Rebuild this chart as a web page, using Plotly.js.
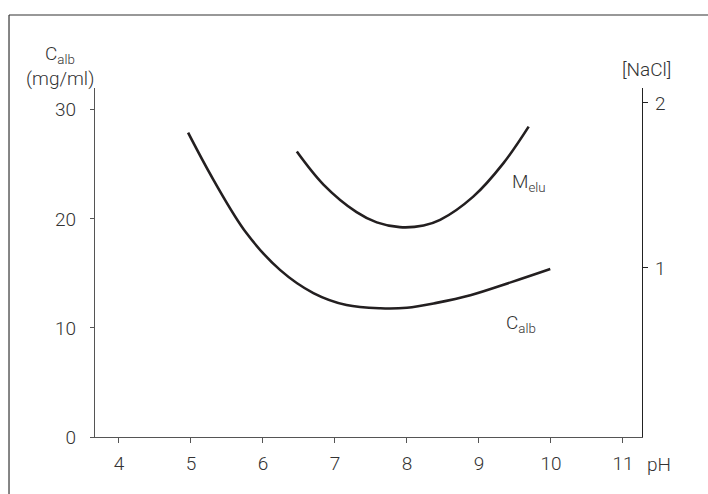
<!DOCTYPE html>
<html><head><meta charset="utf-8">
<script src="https://cdn.plot.ly/plotly-3.0.1.min.js"></script>
<style>html,body{margin:0;padding:0;background:#fff}#c{width:708px;height:494px}</style>
</head><body><div id="c"></div>
<script>
// C_alb curve (left axis, mg/ml)
const calbPH = [4.96, 5.31, 5.77, 6.24, 6.70, 7.16, 7.63, 8.00, 8.41, 8.88, 9.45, 9.99];
const calbVal = [27.9, 23.6, 18.7, 15.3, 13.2, 12.1, 11.8, 11.85, 12.3, 13.0, 14.2, 15.4];
// M_elu curve (right axis, [NaCl])
const meluPH = [6.47, 6.84, 7.30, 7.58, 7.90, 8.23, 8.46, 8.92, 9.34, 9.69];
const meluVal = [1.705, 1.505, 1.338, 1.276, 1.247, 1.257, 1.291, 1.432, 1.635, 1.856];
const xTicks = [4, 5, 6, 7, 8, 9, 10, 11];
const yTicks = [0, 10, 20, 30];
const y2Ticks = [1, 2];

const font = {family: 'Roboto, Lato, sans-serif', size: 19, color: '#333', weight: 300};
const lineCol = '#231f20';
const axCol = '#555';

const traces = [
  {x: calbPH, y: calbVal, mode: 'lines', line: {color: lineCol, width: 2.6, shape: 'spline', smoothing: 1}, yaxis: 'y', hoverinfo: 'skip'},
  {x: meluPH, y: meluVal, mode: 'lines', line: {color: lineCol, width: 2.6, shape: 'spline', smoothing: 1}, yaxis: 'y2', hoverinfo: 'skip'}
];

const layout = {
  width: 708, height: 494,
  margin: {l: 95, r: 66, t: 88, b: 57, pad: 0},
  paper_bgcolor: '#fff', plot_bgcolor: '#fff',
  showlegend: false,
  font: font,
  xaxis: {range: [3.667, 11.264], tickvals: xTicks, ticks: 'outside', ticklen: 5, tickcolor: axCol,
          showline: true, linecolor: axCol, linewidth: 1.2, showgrid: false, zeroline: false, fixedrange: true,
          ticklabelstandoff: 4, tickfont: font},
  yaxis: {range: [0, 32.0], tickvals: yTicks, ticks: 'outside', ticklen: 4, tickcolor: axCol,
          showline: true, linecolor: axCol, linewidth: 1.2, showgrid: false, zeroline: false, fixedrange: true,
          ticklabelstandoff: 10, tickfont: font},
  yaxis2: {range: [-0.024, 2.09], tickvals: y2Ticks, overlaying: 'y', side: 'right', ticks: 'outside', ticklen: 5,
          tickcolor: '#222', showline: true, linecolor: '#222', linewidth: 1.2, showgrid: false, zeroline: false,
          fixedrange: true, ticklabelstandoff: 3, tickfont: font},
  shapes: [
    {type: 'line', xref: 'paper', yref: 'paper', x0: -0.1572, x1: 1.13, y0: 1.2092, y1: 1.2092, line: {color: '#333', width: 1.2}},
    {type: 'line', xref: 'paper', yref: 'paper', x0: -0.1572, x1: -0.1572, y0: 1.2092, y1: -0.2, line: {color: '#333', width: 1.2}}
  ],
  annotations: [
    {text: 'C<sub>alb</sub>', xref: 'paper', yref: 'paper', x: (60-95)/547, y: (437-55)/349, showarrow: false, xanchor: 'center', yanchor: 'middle', font: font},
    {text: '(mg/ml)', xref: 'paper', yref: 'paper', x: (60-95)/547, y: (437-78)/349, showarrow: false, xanchor: 'center', yanchor: 'middle', font: font},
    {text: '[NaCl]', xref: 'paper', yref: 'paper', x: (646-95)/547, y: (437-69)/349, showarrow: false, xanchor: 'center', yanchor: 'middle', font: font},
    {text: 'pH', xref: 'paper', yref: 'paper', x: (659-95)/547, y: (437-464)/349, showarrow: false, xanchor: 'center', yanchor: 'middle', font: font},
    {text: 'M<sub>elu</sub>', xref: 'paper', yref: 'paper', x: (529-95)/547, y: (437-182)/349, showarrow: false, xanchor: 'center', yanchor: 'middle', font: font},
    {text: 'C<sub>alb</sub>', xref: 'paper', yref: 'paper', x: (521-95)/547, y: (437-323)/349, showarrow: false, xanchor: 'center', yanchor: 'middle', font: font}
  ]
};

Plotly.newPlot('c', traces, layout, {staticPlot: true, displayModeBar: false});
</script></body></html>
